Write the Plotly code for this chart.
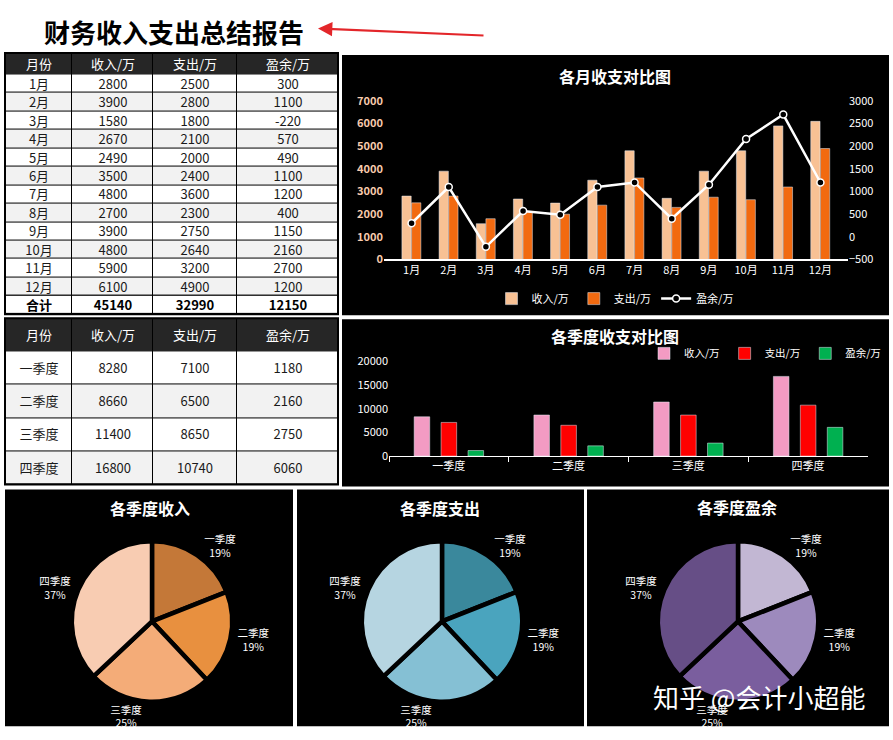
import plotly.graph_objects as go

# ---------------- data ----------------
months = ['1月', '2月', '3月', '4月', '5月', '6月', '7月', '8月', '9月', '10月', '11月', '12月']
income = [2800, 3900, 1580, 2670, 2490, 3500, 4800, 2700, 3900, 4800, 5900, 6100]
expense = [2500, 2800, 1800, 2100, 2000, 2400, 3600, 2300, 2750, 2640, 3200, 4900]
surplus = [300, 1100, -220, 570, 490, 1100, 1200, 400, 1150, 2160, 2700, 1200]
total_label = '合计'
totals = [45140, 32990, 12150]

quarters = ['一季度', '二季度', '三季度', '四季度']
q_income = [8280, 8660, 11400, 16800]
q_expense = [7100, 6500, 8650, 10740]
q_surplus = [1180, 2160, 2750, 6060]

pie_share = [19, 19, 25, 37]   # percentages shown on each pie

table_header = ['月份', '收入/万', '支出/万', '盈余/万']
series_names = ['收入/万', '支出/万', '盈余/万']

# ---------------- layout helpers ----------------
W, H = 893, 740
FONT = 'Noto Sans CJK SC'


def fx(px):
    return px / W


def fy(py):
    return 1 - py / H


C_INC = '#F8C194'
C_EXP = '#F26A10'
Q_COLORS = ['#F39BC3', '#FF0000', '#00B050']
PIE_COLORS = [
    ['#C47838', '#E8903F', '#F4AC78', '#F8CCB2'],
    ['#3A889C', '#4AA4BE', '#85C0D4', '#B6D5E1'],
    ['#C2B7D3', '#9D8ABD', '#7A5E9E', '#664E86'],
]

fig = go.Figure()

# ---------------- tables (heatmap cells) ----------------
col_w = [67, 81, 84, 101]
col_edges = [sum(col_w[:i]) for i in range(len(col_w) + 1)]


def add_table(xa, ya, header_h, row_h, rows, total_row=None):
    fig.add_trace(go.Heatmap(
        x=col_edges, y=[0, header_h], z=[[0] * 4], text=[table_header],
        texttemplate='%{text}', textfont=dict(color='white', size=13, family=FONT),
        colorscale=[[0, '#262626'], [1, '#262626']], zmin=0, zmax=1,
        showscale=False, xgap=1, ygap=0, hoverinfo='skip', xaxis=xa, yaxis=ya))
    n = len(rows)
    yb = [header_h + i * row_h for i in range(n + 1)]
    fig.add_trace(go.Heatmap(
        x=col_edges, y=yb, z=[[i % 2] * 4 for i in range(n)], text=rows,
        texttemplate='%{text}', textfont=dict(color='#1A1A1A', size=13, family=FONT),
        colorscale=[[0, '#FFFFFF'], [1, '#F2F2F2']], zmin=0, zmax=1,
        showscale=False, xgap=1, ygap=1, hoverinfo='skip', xaxis=xa, yaxis=ya))
    if total_row is not None:
        fig.add_trace(go.Heatmap(
            x=col_edges, y=[yb[-1], yb[-1] + row_h], z=[[0] * 4], text=[total_row],
            texttemplate='%{text}',
            textfont=dict(color='#000000', size=13, family=FONT, weight='bold'),
            colorscale=[[0, '#FFFFFF'], [1, '#FFFFFF']], zmin=0, zmax=1,
            showscale=False, xgap=1, ygap=1, hoverinfo='skip', xaxis=xa, yaxis=ya))


t1_rows = [[months[i], str(income[i]), str(expense[i]), str(surplus[i])] for i in range(len(months))]
t1_total = [total_label] + [str(v) for v in totals]
add_table('x4', 'y4', 22, 245 / 13, t1_rows, t1_total)

t2_rows = [[quarters[i], str(q_income[i]), str(q_expense[i]), str(q_surplus[i])] for i in range(len(quarters))]
add_table('x5', 'y5', 34, 34, t2_rows)

# ---------------- monthly chart ----------------
fig.add_trace(go.Bar(x=months, y=income, name=series_names[0], marker_color=C_INC,
                     width=0.25, offset=-0.26, xaxis='x', yaxis='y', legend='legend'))
fig.add_trace(go.Bar(x=months, y=expense, name=series_names[1], marker_color=C_EXP,
                     width=0.25, offset=0.0, xaxis='x', yaxis='y', legend='legend'))
fig.add_trace(go.Scatter(x=months, y=surplus, name=series_names[2], mode='lines+markers',
                         line=dict(color='white', width=2.5),
                         marker=dict(symbol='circle', size=7, color='black',
                                     line=dict(color='white', width=1.5)),
                         xaxis='x', yaxis='y2', legend='legend'))

# ---------------- quarterly chart ----------------
q_series = [q_income, q_expense, q_surplus]
q_offsets = [-0.29, -0.065, 0.16]
for i in range(3):
    fig.add_trace(go.Bar(x=quarters, y=q_series[i], name=series_names[i],
                         marker_color=Q_COLORS[i], width=0.13, offset=q_offsets[i],
                         xaxis='x3', yaxis='y3', legend='legend2'))

# ---------------- pies ----------------
pie_centers = [(152, 626), (442, 626), (738, 626)]
R = 82
for k, (cx, cy) in enumerate(pie_centers):
    fig.add_trace(go.Pie(
        labels=quarters, values=pie_share, sort=False, direction='clockwise', rotation=0,
        marker=dict(colors=PIE_COLORS[k], line=dict(color='black', width=4.5)),
        textposition='outside', texttemplate='%{label}<br>%{percent}',
        textfont=dict(color='white', size=10.5, family=FONT),
        outsidetextfont=dict(color='white', size=10.5, family=FONT),
        showlegend=False, hoverinfo='label+percent',
        domain=dict(x=[fx(cx - R), fx(cx + R)], y=[fy(cy + R), fy(cy - R)])))

# ---------------- shapes ----------------
panels = [(342, 47, 889, 313), (342, 317, 889, 488),
          (5, 491, 293, 733), (297, 491, 584, 733), (587, 491, 889, 733)]
shapes = []
for (x0, y0, x1, y1) in panels:
    shapes.append(dict(type='rect', xref='paper', yref='paper', x0=fx(x0), x1=fx(x1),
                       y0=fy(y1), y1=fy(y0), fillcolor='black', line=dict(width=0),
                       layer='below'))
for (x0, y0, x1, y1) in [(5, 45, 338, 312), (5, 316, 338, 486)]:
    shapes.append(dict(type='rect', xref='paper', yref='paper', x0=fx(x0), x1=fx(x1),
                       y0=fy(y1), y1=fy(y0), line=dict(color='black', width=2),
                       layer='above'))

# ---------------- annotations ----------------
def title_ann(text, x, y, size=16):
    return dict(text=text, x=fx(x), y=fy(y), xref='paper', yref='paper', showarrow=False,
                font=dict(color='white', size=size, family=FONT, weight='bold'),
                xanchor='center', yanchor='middle')


annotations = [
    dict(text='财务收入支出总结报告', x=fx(42), y=fy(23), xref='paper', yref='paper',
         showarrow=False, xanchor='left', yanchor='middle',
         font=dict(color='black', size=26, family=FONT, weight='bold')),
    dict(text='', x=fx(318), y=fy(20), xref='paper', yref='paper', showarrow=True,
         ax=167, ay=7, arrowhead=2, arrowsize=1.3, arrowwidth=2.2, arrowcolor='#E3262A'),
    title_ann('各月收支对比图', 615, 68),
    title_ann('各季度收支对比图', 615, 334),
    title_ann('各季度收入', 150, 510),
    title_ann('各季度支出', 440, 510),
    title_ann('各季度盈余', 737, 509),
    dict(text='知乎 @会计小超能', x=fx(759), y=fy(703), xref='paper', yref='paper',
         showarrow=False, xanchor='center', yanchor='middle',
         font=dict(color='white', size=26, family=FONT)),
]

axis_off = dict(showgrid=False, zeroline=False, showticklabels=False, ticks='',
                showline=False, fixedrange=True)

fig.update_layout(
    width=W, height=H, margin=dict(l=0, r=0, t=0, b=0),
    paper_bgcolor='white', plot_bgcolor='black',
    font=dict(family=FONT, color='white'),
    barmode='group',
    shapes=shapes, annotations=annotations,
    xaxis=dict(domain=[fx(384), fx(848)], anchor='y', type='category', showline=True,
               linecolor='white', linewidth=1.5, ticks='', showgrid=False, zeroline=False,
               tickfont=dict(color='white', size=11, family=FONT)),
    yaxis=dict(domain=[fy(256), fy(94)], anchor='x', range=[0, 7000], dtick=1000,
               showgrid=False, zeroline=False, tickformat='d',
               tickfont=dict(color='#F8CBAD', size=11, family=FONT, weight='bold')),
    yaxis2=dict(overlaying='y', side='right', anchor='x', range=[-500, 3000], dtick=500,
                showgrid=False, zeroline=False, tickformat='d',
                tickfont=dict(color='white', size=11, family=FONT)),
    xaxis3=dict(domain=[fx(389), fx(868)], anchor='y3', type='category', showline=True,
                linecolor='white', linewidth=1, ticks='outside', tickson='boundaries',
                ticklen=5, tickcolor='white', showgrid=False, zeroline=False,
                tickfont=dict(color='white', size=11, family=FONT)),
    yaxis3=dict(domain=[fy(457), fy(360)], anchor='x3', range=[0, 20000], dtick=5000,
                showgrid=False, zeroline=False, tickformat='d',
                tickfont=dict(color='white', size=11, family=FONT)),
    xaxis4=dict(domain=[fx(5), fx(338)], anchor='y4', range=[0, col_edges[-1]], **axis_off),
    yaxis4=dict(domain=[fy(312), fy(45)], anchor='x4', range=[267, 0], **axis_off),
    xaxis5=dict(domain=[fx(5), fx(338)], anchor='y5', range=[0, col_edges[-1]], **axis_off),
    yaxis5=dict(domain=[fy(486), fy(316)], anchor='x5', range=[170, 0], **axis_off),
    legend=dict(orientation='h', x=fx(615), xanchor='center', y=fy(296), yanchor='middle',
                bgcolor='rgba(0,0,0,0)', font=dict(color='white', size=11, family=FONT),
                itemwidth=30),
    legend2=dict(orientation='h', x=fx(886), xanchor='right', y=fy(352), yanchor='middle',
                 bgcolor='rgba(0,0,0,0)', font=dict(color='white', size=10.5, family=FONT),
                 itemwidth=30),
)

post = ("document.body.style.margin='0';document.body.style.padding='0';"
        "var gd=document.getElementById('{plot_id}');gd.style.position='absolute';"
        "gd.style.left='0px';gd.style.top='0px';")
fig.write_html('out.html', post_script=post, config={'displayModeBar': False})
